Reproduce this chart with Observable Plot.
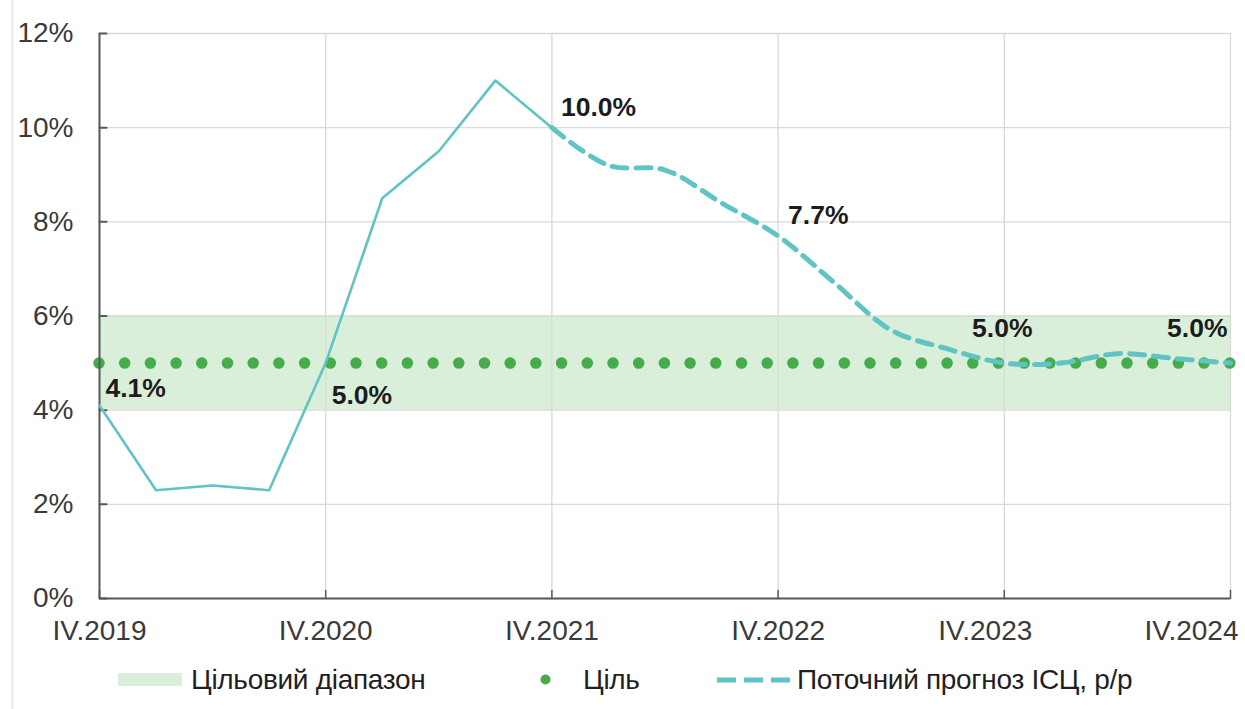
<!DOCTYPE html>
<html>
<head>
<meta charset="utf-8">
<script src="https://cdn.jsdelivr.net/npm/d3@7"></script>
<script src="https://cdn.jsdelivr.net/npm/@observablehq/plot@0.6"></script>
<style>
  html, body { margin: 0; padding: 0; background: #fff; }
  body { font-family: "Liberation Sans", Arial, sans-serif; }
  #wrap { position: relative; width: 1245px; height: 709px; overflow: hidden; }
  #edge { position: absolute; left: 11px; top: 0; width: 3px; height: 709px; background: #efefef; }
  .lg { position: absolute; top: 662px; height: 36px; line-height: 36px; font-size: 28px; color: #1f1f1f; letter-spacing: -0.3px; white-space: nowrap; }
  .sw { position: absolute; }
</style>
</head>
<body>
<div id="wrap">
  <div id="edge"></div>
  <div id="chart"></div>
  <div id="legend"></div>
</div>
<script>
// ---------- data ----------
const quarters = ["IV.2019","I.2020","II.2020","III.2020","IV.2020","I.2021","II.2021","III.2021","IV.2021",
                  "I.2022","II.2022","III.2022","IV.2022","I.2023","II.2023","III.2023","IV.2023",
                  "I.2024","II.2024","III.2024","IV.2024"];
const actualQuarters = ["IV.2019","I.2020","II.2020","III.2020","IV.2020","I.2021","II.2021","III.2021","IV.2021"];
const actualValues   = [4.1, 2.3, 2.4, 2.3, 5.0, 8.5, 9.5, 11.0, 10.0];
const forecastQuarters = ["IV.2021","I.2022","II.2022","III.2022","IV.2022","I.2023","II.2023","III.2023","IV.2023",
                          "I.2024","II.2024","III.2024","IV.2024"];
const forecastValues   = [10.0, 9.2, 9.1, 8.4, 7.7, 6.7, 5.7, 5.3, 5.0, 5.0, 5.2, 5.1, 5.0];
const targetValue = 5;
const targetRangeLow = 4;
const targetRangeHigh = 6;
const yTicks = [0, 2, 4, 6, 8, 10, 12];
const xTickLabels = ["IV.2019","IV.2020","IV.2021","IV.2022","IV.2023","IV.2024"];
const legendLabels = ["Цільовий діапазон", "Ціль", "Поточний прогноз ІСЦ, р/р"];

// ---------- tables ----------
const actual = actualQuarters.map((q, i) => ({q, v: actualValues[i]}));
const forecast = forecastQuarters.map((q, i) => ({q, v: forecastValues[i]}));
const valueAt = q => {
  const f = forecast.find(d => d.q === q);
  if (f) return f.v;
  return actual.find(d => d.q === q).v;
};
const lbl = q => [{q, v: valueAt(q)}];
const fmt = d => d.v.toFixed(1) + "%";

// ---------- style ----------
const W = 1245, H = 655;
const lineColor = "#5fc4c3";
const dotColor = "#45ab4b";
const bandColor = "#daefd9";
const gridColor = "#d9d9d9";
const axisColor = "#595959";
const tickText = "#3a3a3a";
const labelText = "#1c1c1c";
const tickShape = { draw(ctx, l) { ctx.moveTo(0, 0); ctx.lineTo(0, -l); } };

const labelOpts = {x: "q", y: "v", text: fmt, fontSize: 26.5, fontWeight: "bold", fill: labelText};
const xLabelOpts = {x: d => d, frameAnchor: "bottom", lineAnchor: "top", dy: 22, text: d => d, fontSize: 28, fill: tickText};

const chart = Plot.plot({
  width: W, height: H,
  marginLeft: 99, marginRight: 15, marginTop: 33, marginBottom: H - 598,
  x: {type: "point", domain: quarters, padding: 0, round: false, axis: null},
  y: {domain: [0, 12], axis: null},
  style: {fontFamily: "'Liberation Sans', Arial, sans-serif", background: "#fff", overflow: "visible"},
  marks: [
    Plot.areaY(quarters, {x: d => d, y1: targetRangeLow, y2: targetRangeHigh, fill: bandColor}),
    Plot.ruleY(yTicks, {y: d => d, stroke: gridColor, strokeWidth: 1.3}),
    Plot.ruleX(xTickLabels, {x: d => d, stroke: gridColor, strokeWidth: 1.3}),
    Plot.ruleY([targetValue], {y: d => d, stroke: dotColor, strokeWidth: 11.5, strokeLinecap: "round", strokeDasharray: "0 25.7"}),
    Plot.ruleX([quarters[0]], {x: d => d, stroke: axisColor, strokeWidth: 2}),
    Plot.ruleY([0], {y: d => d, stroke: axisColor, strokeWidth: 2}),
    Plot.vector(yTicks, {y: d => d, frameAnchor: "left", rotate: 90, length: 7, anchor: "start", shape: tickShape, stroke: axisColor, strokeWidth: 2}),
    Plot.vector(xTickLabels, {x: d => d, frameAnchor: "bottom", rotate: 0, length: 8, anchor: "start", shape: tickShape, stroke: axisColor, strokeWidth: 1.5}),
    Plot.line(actual, {x: "q", y: "v", stroke: lineColor, strokeWidth: 2.6}),
    Plot.line(forecast, {x: "q", y: "v", stroke: lineColor, strokeWidth: 5, strokeDasharray: "15 9", curve: "catmull-rom"}),
    // y tick labels
    Plot.text(yTicks, {y: d => d, frameAnchor: "left", dx: -26, textAnchor: "end", text: d => d + "%", fontSize: 28, fill: tickText}),
    // x tick labels
    Plot.text(xTickLabels.slice(0, 4), {...xLabelOpts}),
    Plot.text(xTickLabels.slice(4, 5), {...xLabelOpts, dx: -19}),
    Plot.text(xTickLabels.slice(5), {...xLabelOpts, dx: 8, textAnchor: "end"}),
    // data labels
    Plot.text(lbl("IV.2019"), {...labelOpts, textAnchor: "start", dx: 6, dy: -17}),
    Plot.text(lbl("IV.2020"), {...labelOpts, textAnchor: "start", dx: 6, dy: 32}),
    Plot.text(lbl("IV.2021"), {...labelOpts, textAnchor: "start", dx: 9, dy: -20}),
    Plot.text(lbl("IV.2022"), {...labelOpts, textAnchor: "start", dx: 10, dy: -20}),
    Plot.text(lbl("IV.2023"), {...labelOpts, textAnchor: "middle", dx: -2, dy: -35}),
    Plot.text(lbl("IV.2024"), {...labelOpts, textAnchor: "end", dx: -3, dy: -35})
  ]
});
document.getElementById("chart").appendChild(chart);

// ---------- legend ----------
const legend = document.getElementById("legend");
legend.innerHTML = `
  <div class="sw" style="left:118px;top:673px;width:64px;height:13px;background:${bandColor}"></div>
  <div class="lg" style="left:191px">${legendLabels[0]}</div>
  <svg class="sw" style="left:539px;top:673px" width="13" height="13"><circle cx="6.5" cy="6.5" r="5" fill="${dotColor}"/></svg>
  <div class="lg" style="left:583px">${legendLabels[1]}</div>
  <svg class="sw" style="left:717px;top:674px" width="75" height="12"><line x1="0" y1="6" x2="75" y2="6" stroke="${lineColor}" stroke-width="5" stroke-dasharray="19 8"/></svg>
  <div class="lg" style="left:797px">${legendLabels[2]}</div>
`;
</script>
</body>
</html>
